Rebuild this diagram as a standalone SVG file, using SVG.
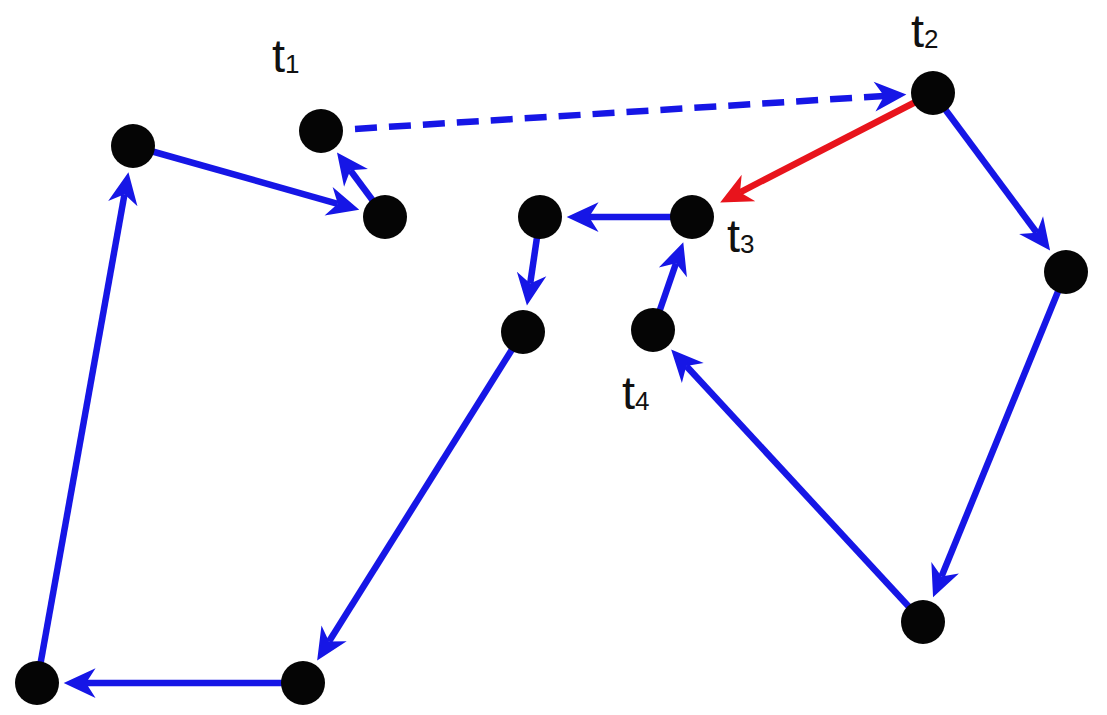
<svg xmlns="http://www.w3.org/2000/svg" width="1107" height="715" viewBox="0 0 1107 715">
<style>
.e{stroke:#1616e6;stroke-width:6.5;fill:none;marker-end:url(#ab)}
.r{stroke:#e8141c;stroke-width:6.5;fill:none;marker-end:url(#ar)}
.d{stroke:#1616e6;stroke-width:6.5;fill:none;stroke-dasharray:22 12;marker-end:url(#ab)}
.n{fill:#050505}
.l{font-family:"Liberation Sans",Arial,sans-serif;font-size:47px;fill:#111}
.s{font-size:26px}
</style>
<defs>
<marker id="ab" markerUnits="userSpaceOnUse" markerWidth="34" markerHeight="34" viewBox="0 -16 32 32" refX="9" refY="0" orient="auto" overflow="visible">
<path d="M0,-14 L30,0 L0,14 L9,0 Z" fill="#1616e6"/>
</marker>
<marker id="ar" markerUnits="userSpaceOnUse" markerWidth="34" markerHeight="34" viewBox="0 -16 32 32" refX="9" refY="0" orient="auto" overflow="visible">
<path d="M0,-14 L30,0 L0,14 L9,0 Z" fill="#e8141c"/>
</marker>
</defs>
<rect width="1107" height="715" fill="#fff"/>
<g id="connectors">
<line class="e" x1="133" y1="146" x2="337.8" y2="203.8"/>
<line class="e" x1="385" y1="217" x2="350.3" y2="170.3"/>
<line class="d" x1="355" y1="128.9" x2="884.1" y2="96"/>
<line class="r" x1="933" y1="93" x2="740" y2="192.3"/>
<line class="e" x1="933" y1="93" x2="1036.8" y2="232.7"/>
<line class="e" x1="1066" y1="272" x2="941.5" y2="576.6"/>
<line class="e" x1="923" y1="622" x2="686.3" y2="366"/>
<line class="e" x1="653" y1="330" x2="676" y2="263.3"/>
<line class="e" x1="692" y1="217" x2="589" y2="217"/>
<line class="e" x1="540" y1="217" x2="530.2" y2="283.5"/>
<line class="e" x1="523" y1="332" x2="329" y2="641.5"/>
<line class="e" x1="303" y1="683" x2="86" y2="683"/>
<line class="e" x1="37" y1="683" x2="124.5" y2="194.3"/>
</g>
<g id="nA"><circle class="n" cx="133" cy="146" r="22"/></g>
<g id="nT1"><circle class="n" cx="321" cy="131" r="22"/><text class="l" x="272" y="72">t<tspan class="s" dy="1">1</tspan></text></g>
<g id="nB"><circle class="n" cx="385" cy="217" r="22"/></g>
<g id="nT2"><circle class="n" cx="933" cy="93" r="22"/><text class="l" x="911" y="47">t<tspan class="s" dy="1">2</tspan></text></g>
<g id="nC"><circle class="n" cx="540" cy="217" r="22"/></g>
<g id="nT3"><circle class="n" cx="692" cy="217" r="22"/><text class="l" x="727" y="252">t<tspan class="s" dy="1">3</tspan></text></g>
<g id="nD"><circle class="n" cx="1066" cy="272" r="22"/></g>
<g id="nE"><circle class="n" cx="523" cy="332" r="22"/></g>
<g id="nT4"><circle class="n" cx="653" cy="330" r="22"/><text class="l" x="622" y="409">t<tspan class="s" dy="1">4</tspan></text></g>
<g id="nF"><circle class="n" cx="923" cy="622" r="22"/></g>
<g id="nG"><circle class="n" cx="37" cy="683" r="22"/></g>
<g id="nH"><circle class="n" cx="303" cy="683" r="22"/></g>
</svg>
